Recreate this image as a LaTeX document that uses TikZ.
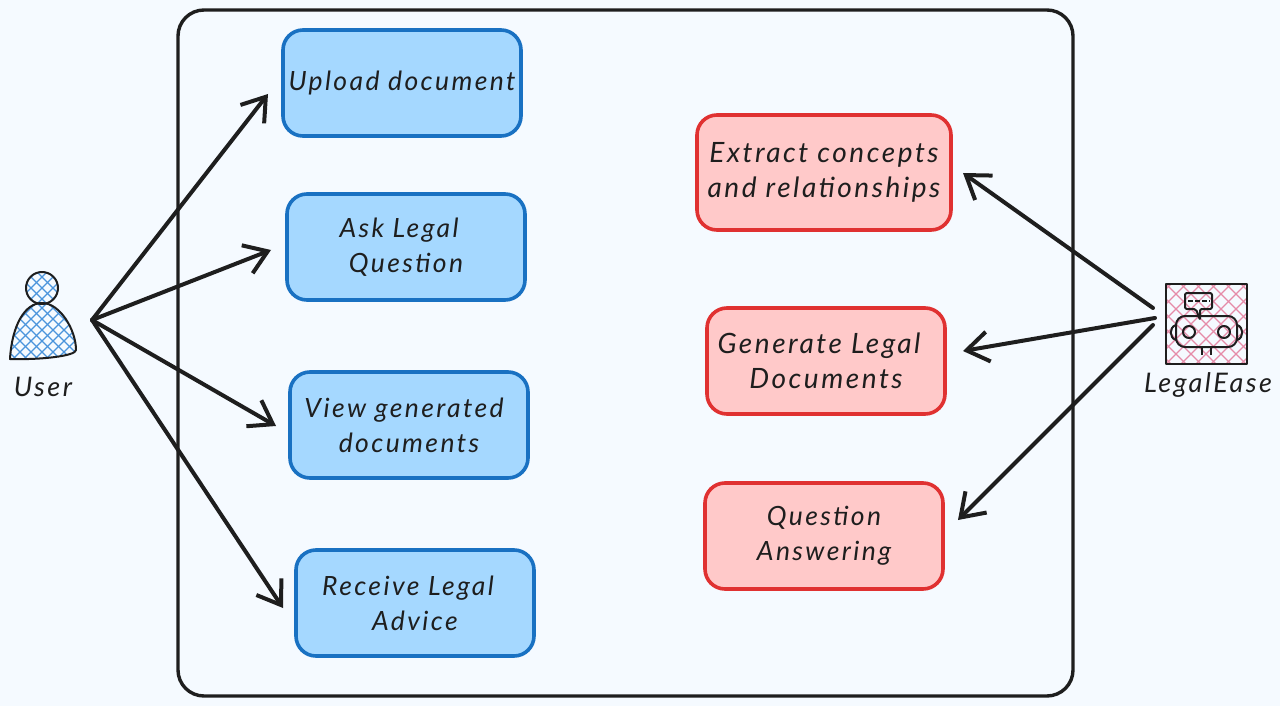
\documentclass[tikz,border=0pt]{standalone}
\usepackage{fontspec}
\setmainfont[LetterSpace=9]{Lato}
\usetikzlibrary{arrows.meta}
\definecolor{bgc}{HTML}{F5FAFF}
\definecolor{ink}{HTML}{1E1E1E}
\definecolor{bluef}{HTML}{A5D8FF}
\definecolor{blues}{HTML}{1971C2}
\definecolor{redf}{HTML}{FFC9C9}
\definecolor{reds}{HTML}{E03131}
\definecolor{hatchb}{HTML}{4A94DC}
\definecolor{hatchp}{HTML}{E58BA8}
\newcommand{\lowerline}[1]{\raisebox{-2pt}{#1}}
\tikzset{
  boxbase/.style={draw,line width=3.6pt,rounded corners=20pt,inner sep=0pt,align=center,text=ink,font=\fontsize{26.5}{35}\selectfont\itshape},
  bluebox/.style={boxbase,fill=bluef,draw=blues,minimum width=238pt,minimum height=106pt},
  redbox/.style={boxbase,fill=redf,draw=reds,minimum width=238pt,minimum height=106pt},
  frame/.style={draw=ink,line width=3.4pt,rounded corners=26pt},
  conn/.style={draw=ink,line width=4pt,line cap=round,-{Straight Barb[length=22pt,width=30pt,line width=4pt]}},
  actorlabel/.style={text=ink,inner sep=0pt,font=\fontsize{27}{30}\selectfont\itshape},
  iconline/.style={draw=ink,line width=2pt,line join=round},
  hatchblue/.style={draw=hatchb,line width=1.1pt},
  hatchpink/.style={draw=hatchp,line width=1.1pt},
}
\begin{document}
\begin{tikzpicture}[x=1pt,y=-1pt]
\useasboundingbox (0,0) rectangle (1280,706);
\fill[bgc] (0,0) rectangle (1280,706);
\draw[frame] (178,10) rectangle (1073,696);

\node[bluebox] (upload) at (402,83) {Upload document};
\node[bluebox] (ask) at (406,247) {Ask Legal\hspace*{14pt}\\Question};
\node[bluebox] (view) at (409,425) {View generated\hspace*{10pt}\\documents};
\node[bluebox] (receive) at (415,603) {Receive Legal\hspace*{14pt}\\Advice};
\node[redbox,minimum width=254pt,minimum height=115pt,font=\fontsize{28}{35}\selectfont\itshape] (extract) at (824,172.5) {\lowerline{Extract concepts}\\\lowerline{and relationships}};
\node[redbox,font=\fontsize{28}{35}\selectfont\itshape] (generate) at (826,361) {Generate Legal\hspace*{14pt}\\Documents};
\node[redbox] (answer) at (824,536) {\lowerline{Question}\\\lowerline{Answering}};

% user icon
\begin{scope}
\clip (42,288) circle (16pt);
\foreach \i in {-88,-77,...,88} {
  \draw[hatchblue] (42+\i-30,258) -- (42+\i+30,318);
  \draw[hatchblue] (42+\i+30,258) -- (42+\i-30,318);
}
\end{scope}
\begin{scope}
\clip (10,359) .. controls (12,325) and (25,303) .. (42,303) .. controls (60,303) and (76,330) .. (76,350) .. controls (76,356) and (40,360) .. (10,359) -- cycle;
\foreach \i in {-110,-99,...,110} {
  \draw[hatchblue] (42+\i-35,295) -- (42+\i+35,365);
  \draw[hatchblue] (42+\i+35,295) -- (42+\i-35,365);
}
\end{scope}
\draw[iconline] (42,288) circle (16pt);
\draw[iconline] (10,359) .. controls (12,325) and (25,303) .. (42,303) .. controls (60,303) and (76,330) .. (76,350) .. controls (76,356) and (40,360) .. (10,359) -- cycle;
\node[actorlabel] (user) at (43,387) {User};
\coordinate (userhub) at (92,320);

% robot icon
\begin{scope}
\clip (1166,284) rectangle (1247,364);
\foreach \i in {-120,-105,...,120} {
  \draw[hatchpink] (1206+\i-45,279) -- (1206+\i+45,369);
  \draw[hatchpink] (1206+\i+45,279) -- (1206+\i-45,369);
}
\end{scope}
\draw[iconline] (1166,284) rectangle (1247,364);
\draw[iconline,rounded corners=2pt] (1185,293) -- (1212,293) -- (1212,309) -- (1200,309) -- (1200,320) -- (1196,309) -- (1185,309) -- cycle;
\draw[draw=ink,line width=1.6pt,dash pattern=on 5pt off 2pt] (1188,301) -- (1210,301);
\draw[iconline,rounded corners=9pt] (1176,316) rectangle (1237,347);
\draw[iconline] (1189,332) circle (6pt);
\draw[iconline] (1224,332) circle (6pt);
\draw[iconline] (1176,325) .. controls (1169,327) and (1169,338) .. (1176,340);
\draw[iconline] (1237,325) .. controls (1244,327) and (1244,338) .. (1237,340);
\draw[iconline] (1202,347) -- (1202,355);
\draw[iconline] (1211,347) -- (1211,355);
\node[actorlabel] (legalease) at (1208,385) {LegalEase};
\coordinate (botA) at (1153,308);
\coordinate (botB) at (1155,318);
\coordinate (botC) at (1153,325);

% connector ends
\coordinate (uploadin) at (268,94);
\coordinate (askin) at (271,250);
\coordinate (viewin) at (276,426);
\coordinate (receivein) at (283,608);
\coordinate (extractin) at (963,173);
\coordinate (generatein) at (963,351);
\coordinate (answerin) at (958,520);

\draw[conn] (userhub) -- (uploadin);
\draw[conn] (userhub) -- (askin);
\draw[conn] (userhub) -- (viewin);
\draw[conn] (userhub) -- (receivein);
\draw[conn] (botA) -- (extractin);
\draw[conn] (botB) -- (generatein);
\draw[conn] (botC) -- (answerin);
\end{tikzpicture}
\end{document}
